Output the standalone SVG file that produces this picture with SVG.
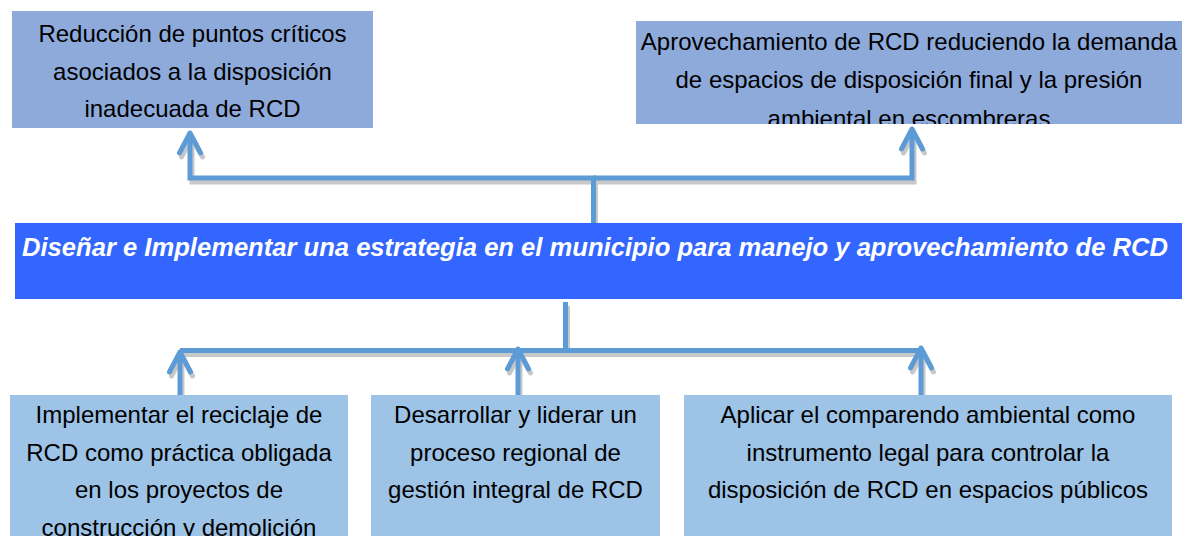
<svg xmlns="http://www.w3.org/2000/svg" width="1182" height="536" viewBox="0 0 1182 536">
  <style>
    .top { fill: #8EAADB; }
    .bot { fill: #9DC3E6; }
    .main { fill: #3366FF; }
    .t { font-family: "Liberation Sans", Arial, sans-serif; font-size: 24px; fill: #000; text-anchor: middle; }
    .mt { font-family: "Liberation Sans", Arial, sans-serif; font-size: 25px; font-weight: bold; font-style: italic; fill: #fff; text-anchor: middle; }
    .con { fill: none; stroke: #5B9BD5; stroke-width: 5; }
  </style>
  <defs>
    <marker id="arr" viewBox="-26 -16 32 32" markerWidth="32" markerHeight="32" refX="0" refY="0" orient="auto" markerUnits="userSpaceOnUse" overflow="visible">
      <path d="M-20,-10.5 L0,0 L-20,10.5" fill="none" stroke="#5B9BD5" stroke-width="5" stroke-linecap="round" stroke-linejoin="round"/>
    </marker>
    <filter id="sh" x="-5%" y="-20%" width="110%" height="160%">
      <feOffset in="SourceAlpha" dx="2" dy="4" result="o"/>
      <feFlood flood-color="#b0b0b0" flood-opacity="0.7"/>
      <feComposite in2="o" operator="in" result="s"/>
      <feMerge><feMergeNode in="s"/><feMergeNode in="SourceGraphic"/></feMerge>
    </filter>
    <clipPath id="c2"><rect x="636" y="21" width="546" height="103"/></clipPath>
    <clipPath id="c4"><rect x="10" y="395" width="338" height="141"/></clipPath>
  </defs>

  <g id="connectors" filter="url(#sh)">
    <path class="con" d="M593.5,226 V178 H190 V133" marker-end="url(#arr)"/>
    <path class="con" d="M593.5,178 H912 V129" marker-end="url(#arr)"/>
    <path class="con" d="M565.5,302 V350.5 H180"/>
    <path class="con" d="M565.5,350.5 H921"/>
    <path class="con" d="M180,397 V352" marker-end="url(#arr)"/>
    <path class="con" d="M518,397 V349" marker-end="url(#arr)"/>
    <path class="con" d="M921,397 V348" marker-end="url(#arr)"/>
  </g>

  <g id="node-reduccion">
    <rect class="top" x="12" y="11" width="361" height="117"/>
    <text class="t" x="192.5" y="42">Reducción de puntos críticos</text>
    <text class="t" x="192.5" y="79.5">asociados a la disposición</text>
    <text class="t" x="192.5" y="117">inadecuada de RCD</text>
  </g>

  <g id="node-aprovechamiento">
    <rect class="top" x="636" y="21" width="546" height="103"/>
    <g clip-path="url(#c2)">
      <text class="t" x="909" y="50">Aprovechamiento de RCD reduciendo la demanda</text>
      <text class="t" x="909" y="88">de espacios de disposición final y la presión</text>
      <text class="t" x="909" y="127">ambiental en escombreras</text>
    </g>
  </g>

  <g id="node-estrategia">
    <rect class="main" x="15" y="223" width="1167" height="76"/>
    <text class="mt" x="595" y="256" textLength="1146" lengthAdjust="spacingAndGlyphs">Diseñar e Implementar una estrategia en el municipio para manejo y aprovechamiento de RCD</text>
  </g>

  <g id="node-reciclaje">
    <rect class="bot" x="10" y="395" width="338" height="141"/>
    <g clip-path="url(#c4)">
      <text class="t" x="179" y="423">Implementar el reciclaje de</text>
      <text class="t" x="179" y="460.5">RCD como práctica obligada</text>
      <text class="t" x="179" y="498">en los proyectos de</text>
      <text class="t" x="179" y="535.5">construcción y demolición</text>
    </g>
  </g>

  <g id="node-regional">
    <rect class="bot" x="371" y="395" width="289" height="141"/>
    <text class="t" x="515.5" y="423">Desarrollar y liderar un</text>
    <text class="t" x="515.5" y="460.5">proceso regional de</text>
    <text class="t" x="515.5" y="498">gestión integral de RCD</text>
  </g>

  <g id="node-comparendo">
    <rect class="bot" x="684" y="395" width="488" height="141"/>
    <text class="t" x="928" y="423">Aplicar el comparendo ambiental como</text>
    <text class="t" x="928" y="460.5">instrumento legal para controlar la</text>
    <text class="t" x="928" y="498">disposición de RCD en espacios públicos</text>
  </g>
</svg>
